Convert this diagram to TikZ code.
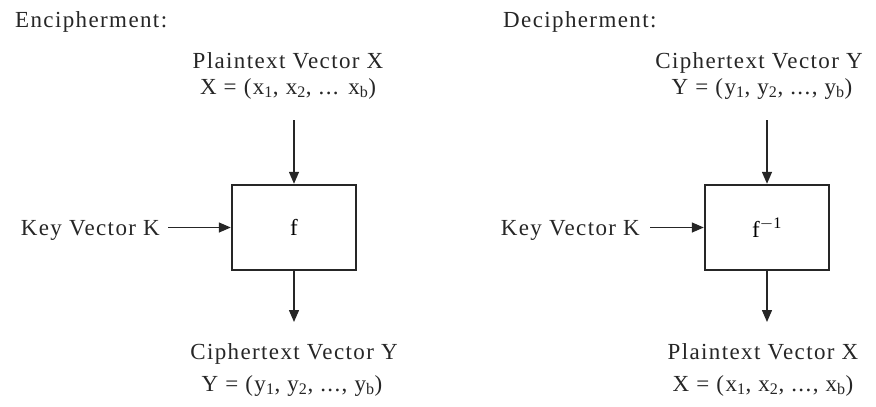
\documentclass[tikz,border=0pt]{standalone}
\usepackage{fontspec}
\setmainfont[LetterSpace=6]{Liberation Serif}
\usetikzlibrary{arrows.meta}
\tikzset{
  lbl/.style={inner sep=0pt, font=\fontsize{23}{26}\selectfont, text=black!85},
  fbox/.style={draw=black!85, line width=2.4pt, minimum width=124pt, minimum height=85pt, inner sep=0pt, font=\fontsize{23}{26}\selectfont},
  arr/.style={draw=black!85, line width=1.4pt, -{Triangle[length=12pt,width=10pt]}}
}
\begin{document}
\begin{tikzpicture}[x=1pt,y=-1pt]
\useasboundingbox (0,0) rectangle (876,407);
% Encipherment
\node[lbl, anchor=base west] (enc) at (15,27) {Encipherment:};
\node[lbl, anchor=base] (ptL) at (288,68) {Plaintext Vector X};
\node[lbl, anchor=base] (xL) at (288,94) {X = (x\textsubscript{1}, x\textsubscript{2}, ... x\textsubscript{b})};
\node[fbox] (boxL) at (294,227.5) {f};
\coordinate (inL) at (294,120);
\coordinate (outL) at (294,322);
\node[lbl, anchor=base east] (keyL) at (160,235) {Key Vector K};
\draw[arr] (inL) -- (boxL.north);
\draw[arr] (keyL.east |- boxL.west) ++(8,0) -- (boxL.west);
\draw[arr] (boxL.south) -- (outL);
\node[lbl, anchor=base] (ctL) at (294,359) {Ciphertext Vector Y};
\node[lbl, anchor=base] (yL) at (292,391) {Y = (y\textsubscript{1}, y\textsubscript{2}, ..., y\textsubscript{b})};
% Decipherment
\node[lbl, anchor=base west] (dec) at (503,27) {Decipherment:};
\node[lbl, anchor=base] (ctR) at (759,68) {Ciphertext Vector Y};
\node[lbl, anchor=base] (yR) at (762,94) {Y = (y\textsubscript{1}, y\textsubscript{2}, ..., y\textsubscript{b})};
\node[fbox] (boxR) at (767,227.5) {f\textsuperscript{$-$1}};
\coordinate (inR) at (767,120);
\coordinate (outR) at (767,322);
\node[lbl, anchor=base east] (keyR) at (640,235) {Key Vector K};
\draw[arr] (inR) -- (boxR.north);
\draw[arr] (keyR.east |- boxR.west) ++(10,0) -- (boxR.west);
\draw[arr] (boxR.south) -- (outR);
\node[lbl, anchor=base] (ptR) at (763,359) {Plaintext Vector X};
\node[lbl, anchor=base] (xR) at (763,391) {X = (x\textsubscript{1}, x\textsubscript{2}, ..., x\textsubscript{b})};
\end{tikzpicture}
\end{document}
